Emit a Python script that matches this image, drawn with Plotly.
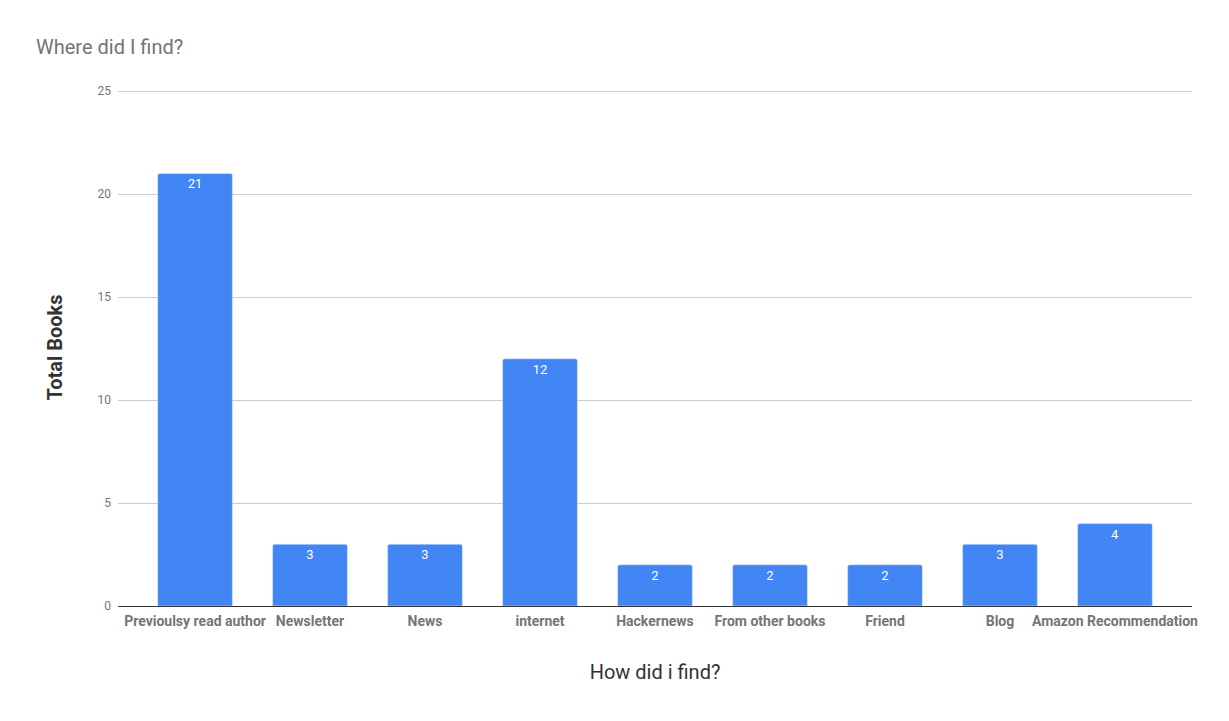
import plotly.graph_objects as go

# Data
categories = [
    "Previoulsy read author",
    "Newsletter",
    "News",
    "internet",
    "Hackernews",
    "From other books",
    "Friend",
    "Blog",
    "Amazon Recommendation",
]
total_books = [21, 3, 3, 12, 2, 2, 2, 3, 4]
y_ticks = [0, 5, 10, 15, 20, 25]

# page body adds an 8px margin, so the figure is drawn a bit smaller
W, H = 1213, 705

fig = go.Figure(
    go.Bar(
        x=categories,
        y=total_books,
        marker_color="#4285f4",
        marker_cornerradius=2,
        width=0.65,
        text=total_books,
        textposition="inside",
        insidetextanchor="end",
        textfont=dict(color="white", size=13, family="Roboto"),
        cliponaxis=False,
    )
)

fig.update_layout(
    width=W,
    height=H,
    paper_bgcolor="white",
    plot_bgcolor="white",
    font=dict(family="Roboto", color="#757575"),
    margin=dict(l=110, r=29, t=81, b=107),
    title=dict(
        text="Where did I find?",
        x=28 / W,
        xanchor="left",
        y=1 - 39 / H,
        yanchor="middle",
        font=dict(size=20, color="#757575", family="Roboto"),
    ),
    showlegend=False,
)

fig.update_xaxes(
    type="category",
    range=[-0.67, 8.67],
    tickvals=categories,
    ticktext=[f"<b>{c}</b>" for c in categories],
    showgrid=False,
    tickfont=dict(size=14, color="#757575", family="Roboto"),
    ticks="",
    ticklabelstandoff=5,
    title=dict(
        text="How did i find?",
        font=dict(size=20, color="#333333", family="Roboto"),
        standoff=36,
    ),
    showline=False,
)

fig.update_yaxes(
    range=[0, 25.1],
    tickvals=y_ticks,
    gridcolor="#cccccc",
    gridwidth=1,
    zeroline=True,
    zerolinecolor="#333333",
    zerolinewidth=1,
    tickfont=dict(size=12, color="#757575", family="Roboto"),
    ticks="",
    ticklabelstandoff=6,
    title=dict(
        text="<b>Total Books</b>",
        font=dict(size=20, color="#333333", family="Roboto"),
        standoff=29,
    ),
)

fig.write_html("out.html")
